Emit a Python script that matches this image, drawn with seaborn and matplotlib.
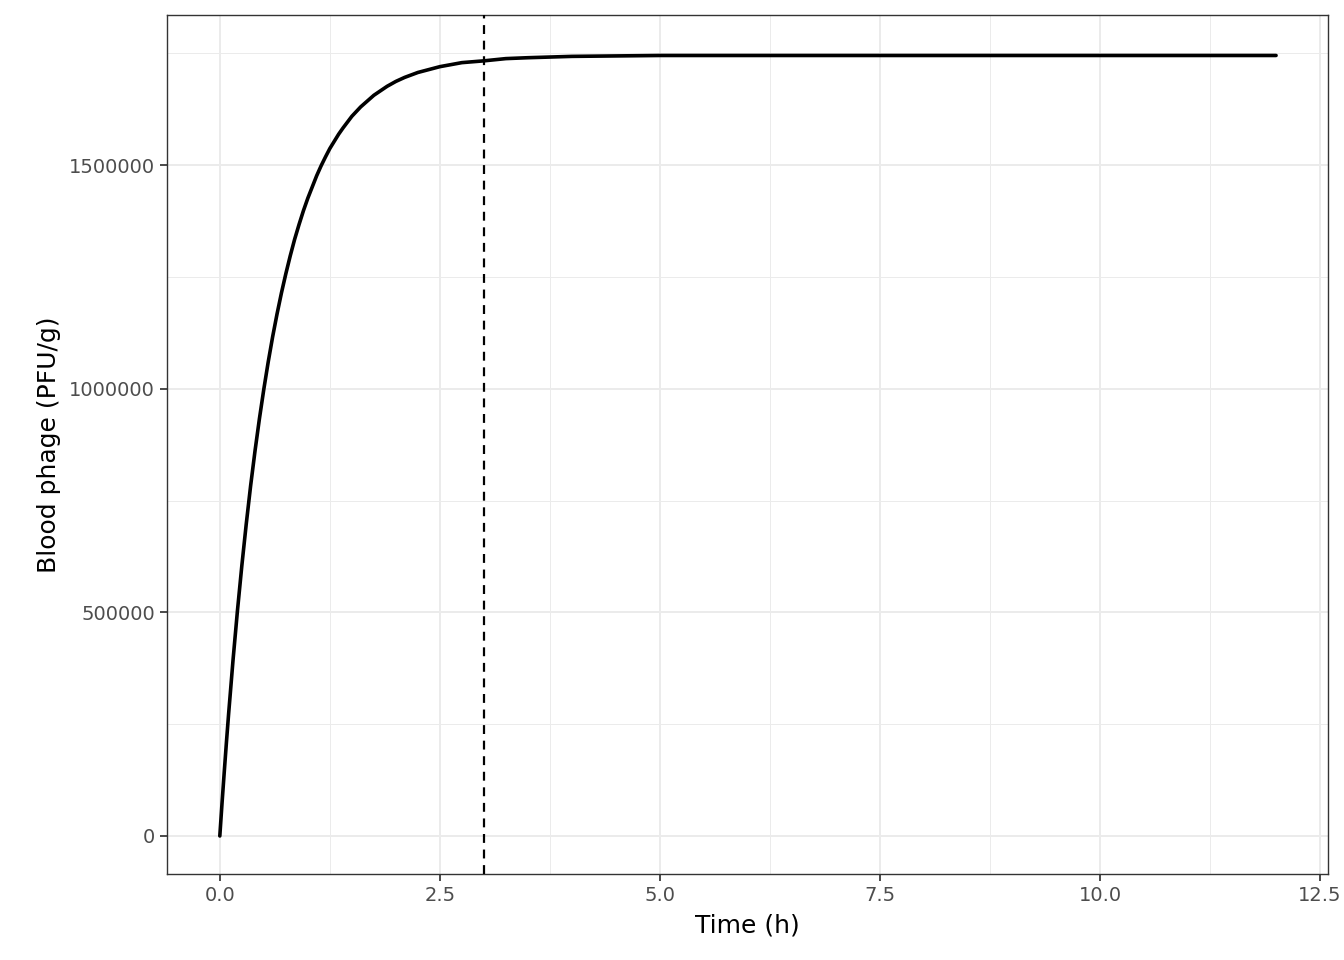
import matplotlib
matplotlib.use("Agg")
import matplotlib.pyplot as plt
import seaborn as sns
import pandas as pd
from matplotlib.ticker import MultipleLocator, FuncFormatter

time_h = [0, 0.025, 0.05, 0.075, 0.1, 0.15, 0.2, 0.25, 0.3, 0.35, 0.4, 0.45, 0.5, 0.55, 0.6, 0.65,
          0.7, 0.75, 0.8, 0.85, 0.9, 0.95, 1.0, 1.1, 1.15, 1.2, 1.25, 1.35, 1.4, 1.5, 1.6, 1.75,
          1.9, 2.0, 2.1, 2.25, 2.5, 2.75, 3.0, 3.25, 3.5, 4.0, 4.5, 5.0, 6.0, 8.0, 10.0, 12.0]
phage = [0, 73000, 142000, 209000, 273000, 393000, 503000, 604000, 697000, 783000, 861000,
         933000, 999000, 1060000, 1116000, 1167000, 1214000, 1257000, 1297000, 1334000, 1367000,
         1398000, 1426000, 1476000, 1498000, 1518000, 1537000, 1569000, 1583000, 1609000,
         1630000, 1656000, 1676000, 1687000, 1696000, 1707000, 1720000, 1729000, 1733000,
         1738000, 1740000, 1743000, 1744000, 1745000, 1745000, 1745000, 1745000, 1745000]
vline_x = 3.0

sns.set_theme(style="white")
fig = plt.figure(figsize=(13.44, 9.6), dpi=100)
ax = fig.add_axes([167/1344, 1-874/960, (1328-167)/1344, (874-15)/960])
df = pd.DataFrame({"t": time_h, "y": phage})
sns.lineplot(data=df, x="t", y="y", ax=ax, color="black", linewidth=2.6, zorder=3)
ax.axvline(vline_x, color="black", linestyle=(0, (4, 3)), linewidth=1.6, zorder=3)

ax.set_xlim(-0.6, 12.59)
ax.set_ylim(-85000, 1835500)
ax.xaxis.set_major_locator(MultipleLocator(2.5))
ax.xaxis.set_minor_locator(MultipleLocator(1.25))
ax.yaxis.set_major_locator(MultipleLocator(500000))
ax.yaxis.set_minor_locator(MultipleLocator(250000))
ax.xaxis.set_major_formatter(FuncFormatter(lambda v, p: f"{v:.1f}"))
ax.yaxis.set_major_formatter(FuncFormatter(lambda v, p: f"{int(v)}"))
ax.grid(which="major", color="#ebebeb", linewidth=1.4)
ax.grid(which="minor", color="#ebebeb", linewidth=0.7)
ax.set_axisbelow(True)
for s in ax.spines.values():
    s.set_color("#333333"); s.set_linewidth(1.0)
ax.tick_params(which="major", length=5, color="#333333", labelsize=14, labelcolor="#4d4d4d",
               bottom=True, left=True)
ax.tick_params(which="minor", length=0)
ax.set_xlabel("Time (h)", fontsize=18, color="black", labelpad=6)
ax.set_ylabel("Blood phage (PFU/g)", fontsize=18, color="black", labelpad=6)
fig.savefig("out.png", dpi=100)
